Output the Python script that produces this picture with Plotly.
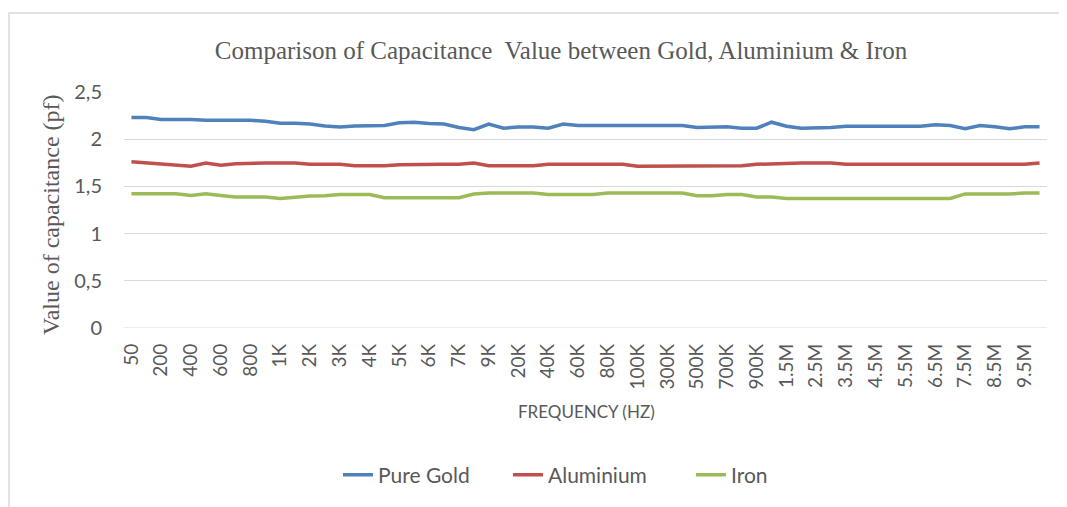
import plotly.graph_objects as go

frequencies = ["50", "100", "200", "300", "400", "500", "600", "700", "800", "900",
               "1K", "1.5K", "2K", "2.5K", "3K", "3.5K", "4K", "4.5K", "5K", "5.5K",
               "6K", "6.5K", "7K", "8K", "9K", "10K", "20K", "30K", "40K", "50K",
               "60K", "70K", "80K", "90K", "100K", "200K", "300K", "400K", "500K", "600K",
               "700K", "800K", "900K", "1M", "1.5M", "2M", "2.5M", "3M", "3.5M", "4M",
               "4.5M", "5M", "5.5M", "6M", "6.5M", "7M", "7.5M", "8M", "8.5M", "9M",
               "9.5M", "10M"]

pure_gold = [2.23, 2.23, 2.21, 2.21, 2.21, 2.20, 2.20, 2.20, 2.20, 2.19,
             2.17, 2.17, 2.16, 2.14, 2.13, 2.14, 2.145, 2.145, 2.174, 2.18,
             2.167, 2.16, 2.124, 2.10, 2.16, 2.117, 2.13, 2.13, 2.117, 2.16,
             2.145, 2.145, 2.145, 2.145, 2.145, 2.145, 2.145, 2.145, 2.124, 2.124,
             2.131, 2.117, 2.117, 2.18, 2.138, 2.117, 2.117, 2.124, 2.138, 2.138,
             2.138, 2.138, 2.138, 2.138, 2.152, 2.145, 2.11, 2.145, 2.131, 2.11,
             2.131, 2.131]

aluminium = [1.762, 1.748, 1.738, 1.727, 1.713, 1.748, 1.723, 1.741, 1.748, 1.748,
             1.748, 1.748, 1.734, 1.73, 1.734, 1.72, 1.72, 1.72, 1.73, 1.734,
             1.734, 1.734, 1.734, 1.748, 1.72, 1.72, 1.72, 1.72, 1.734, 1.734,
             1.734, 1.734, 1.734, 1.734, 1.713, 1.713, 1.713, 1.713, 1.713, 1.713,
             1.72, 1.72, 1.734, 1.741, 1.748, 1.748, 1.748, 1.748, 1.734, 1.734,
             1.734, 1.734, 1.734, 1.734, 1.734, 1.734, 1.734, 1.734, 1.734, 1.734,
             1.734, 1.748]

iron = [1.422, 1.422, 1.422, 1.422, 1.404, 1.422, 1.404, 1.387, 1.387, 1.387,
        1.372, 1.387, 1.397, 1.40, 1.415, 1.415, 1.415, 1.38, 1.38, 1.38,
        1.38, 1.38, 1.38, 1.42, 1.43, 1.43, 1.43, 1.43, 1.415, 1.415,
        1.415, 1.415, 1.43, 1.43, 1.43, 1.43, 1.43, 1.43, 1.40, 1.40,
        1.415, 1.415, 1.387, 1.387, 1.372, 1.372, 1.372, 1.372, 1.372, 1.372,
        1.372, 1.372, 1.372, 1.372, 1.372, 1.372, 1.42, 1.42, 1.42, 1.42,
        1.43, 1.43]

series_names = ["Pure Gold", "Aluminium", "Iron"]
series_colors = ["#4F81BD", "#C0504D", "#9BBB59"]
legend_widths = [125, 138, 40]

y_tickvals = [0, 0.5, 1, 1.5, 2, 2.5]
y_ticktext = ["0", "0,5", "1", "1,5", "2", "2,5"]

title_text = "Comparison of Capacitance  Value between Gold, Aluminium & Iron"
y_title = "Value of capacitance (pf)"
x_title = "FREQUENCY (HZ)"

W, H = 1067, 507
OFF = 8  # page body margin offset
# plot area in screenshot pixels
PX0, PX1, PY0, PY1 = 124, 1047, 92, 328
pw, ph = PX1 - PX0, PY1 - PY0

def px_x(p):
    return (p - PX0) / pw

def px_y(p):
    return (PY1 - p) / ph

fig = go.Figure()
for name, vals, col, lw in zip(series_names, [pure_gold, aluminium, iron],
                               series_colors, legend_widths):
    fig.add_trace(go.Scatter(x=frequencies, y=vals, name=name, mode="lines",
                             line=dict(color=col, width=3.5), legendwidth=lw))

x_tick_font = dict(family="Lato", size=19, color="#595959")
y_tick_font = dict(family="Lato", size=20, color="#595959")

fig.update_layout(
    width=W, height=H,
    margin=dict(l=PX0 - OFF, r=W - (PX1 - OFF), t=PY0 - OFF, b=H - (PY1 - OFF),
                autoexpand=False),
    paper_bgcolor="white", plot_bgcolor="white",
    title=dict(text=title_text, x=(561 - OFF) / W, xref="container", xanchor="center",
               y=1 - (50 - OFF) / H, yref="container", yanchor="middle",
               font=dict(family="Liberation Serif", size=25, color="#595959")),
    xaxis=dict(type="category", tickmode="array", tickvals=frequencies[::2],
               ticktext=frequencies[::2], tickangle=-90, showgrid=False,
               showline=False, zeroline=False, ticks="", tickfont=x_tick_font,
               ticklabelstandoff=11, range=[-0.5, len(frequencies) - 0.5]),
    yaxis=dict(range=[0, 2.5], tickmode="array", tickvals=y_tickvals,
               ticktext=y_ticktext, showgrid=True, gridcolor="#D9D9D9",
               gridwidth=1, zeroline=False, showline=False, ticks="",
               tickfont=y_tick_font, ticklabelstandoff=21),
    showlegend=True,
    legend=dict(orientation="h", x=px_x(338), xanchor="left",
                y=px_y(475), yanchor="middle",
                font=dict(family="Lato", size=21, color="#595959")),
    annotations=[
        dict(text=y_title, textangle=-90, x=px_x(51), y=px_y(215),
             xanchor="center", yanchor="middle",
             xref="paper", yref="paper", showarrow=False,
             font=dict(family="Liberation Serif", size=24, color="#595959")),
        dict(text=x_title, x=px_x(586), y=px_y(411), xanchor="center",
             yanchor="middle", xref="paper", yref="paper",
             showarrow=False, font=dict(family="Lato", size=17, color="#595959")),
    ],
    shapes=[
        dict(type="rect", xref="paper", yref="paper",
             x0=px_x(OFF + 1), x1=px_x(1090), y0=px_y(530), y1=px_y(13),
             line=dict(color="#D9D9D9", width=1.5), fillcolor="rgba(0,0,0,0)",
             layer="below"),
        dict(type="line", xref="paper", yref="y", x0=0, x1=1, y0=0, y1=0,
             line=dict(color="#D9D9D9", width=1), layer="below"),
    ],
)

fig.write_html("out.html")
